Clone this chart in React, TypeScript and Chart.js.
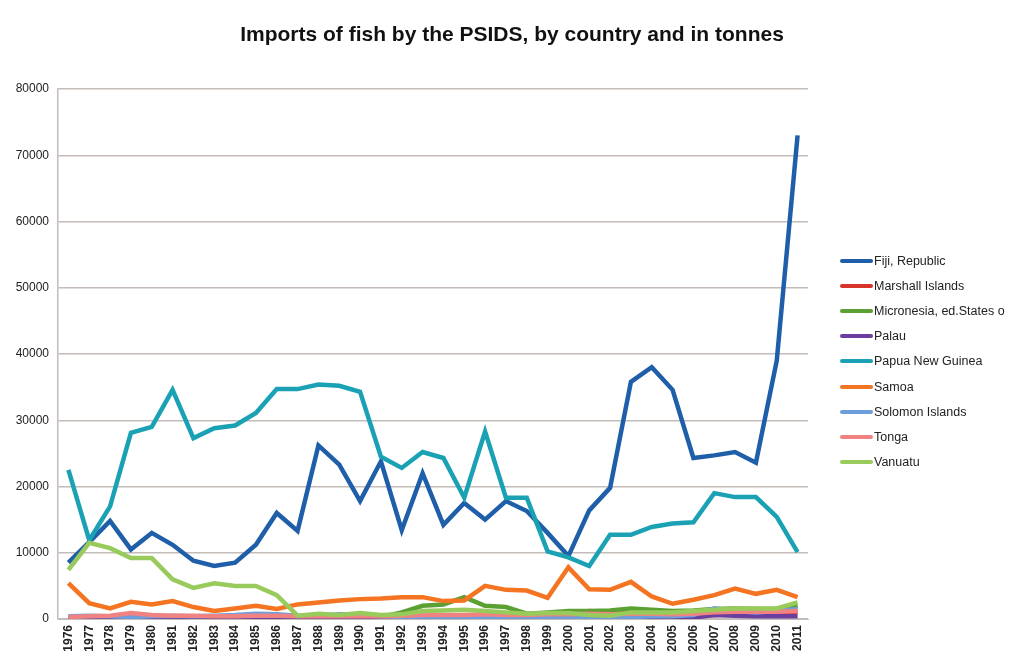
import React, { useEffect, useRef } from "react";
import { Chart, registerables } from "chart.js";

Chart.register(...registerables);

const chartTitle = "Imports of fish by the PSIDS, by country and in tonnes";

const years = [
  "1976","1977","1978","1979","1980","1981","1982","1983","1984","1985",
  "1986","1987","1988","1989","1990","1991","1992","1993","1994","1995",
  "1996","1997","1998","1999","2000","2001","2002","2003","2004","2005",
  "2006","2007","2008","2009","2010","2011",
];

const fiji = [
  8500, 11600, 14800, 10500, 13000, 11200, 8800, 8000, 8500, 11200,
  16000, 13300, 26200, 23300, 17800, 23800, 13400, 22000, 14200, 17500,
  15000, 17800, 16300, 13000, 9500, 16400, 19800, 35800, 38000, 34600,
  24300, 24700, 25200, 23600, 39000, 73000,
];
const marshall = [
  100, 100, 100, 150, 150, 150, 150, 150, 150, 150,
  150, 150, 150, 200, 200, 200, 200, 200, 200, 250,
  300, 300, 300, 500, 700, 1200, 1000, 900, 800, 700,
  500, 600, 800, 900, 1000, 1100,
];
const micronesia = [
  100, 100, 100, 100, 100, 100, 100, 100, 100, 100,
  100, 150, 200, 200, 200, 300, 1000, 2000, 2200, 3300,
  2000, 1800, 800, 1000, 1200, 1200, 1300, 1600, 1400, 1200,
  1300, 1500, 1600, 1500, 1500, 2000,
];
const palau = [
  50, 50, 50, 100, 100, 100, 100, 100, 100, 100,
  100, 100, 100, 100, 100, 100, 100, 100, 100, 100,
  100, 100, 100, 100, 100, 100, 100, 100, 100, 100,
  200, 600, 500, 400, 400, 400,
];
const png = [
  22500, 11900, 17000, 28100, 29000, 34600, 27300, 28800, 29200, 31100,
  34700, 34700, 35400, 35200, 34300, 24500, 22800, 25200, 24300, 18300,
  28300, 18300, 18300, 10200, 9300, 8000, 12700, 12700, 13900, 14400,
  14600, 19000, 18400, 18400, 15400, 10100,
];
const samoa = [
  5400, 2400, 1600, 2600, 2200, 2700, 1800, 1200, 1600, 2000,
  1500, 2200, 2500, 2800, 3000, 3100, 3300, 3300, 2700, 2800,
  5000, 4400, 4300, 3200, 7800, 4500, 4400, 5600, 3400, 2300,
  2900, 3600, 4600, 3800, 4400, 3300,
];
const solomon = [
  400, 500, 400, 300, 400, 500, 400, 500, 600, 800,
  700, 500, 500, 700, 600, 400, 300, 300, 200, 200,
  200, 200, 200, 200, 300, 200, 200, 300, 400, 400,
  600, 1600, 1200, 1000, 1200, 1500,
];
const tonga = [
  300, 400, 500, 900, 600, 500, 500, 400, 400, 500,
  500, 400, 400, 400, 400, 400, 500, 600, 600, 600,
  700, 600, 600, 700, 700, 800, 700, 800, 800, 700,
  800, 1000, 1100, 1100, 1100, 1200,
];
const vanuatu = [
  7400, 11500, 10700, 9200, 9200, 6000, 4700, 5400, 5000, 5000,
  3600, 500, 800, 600, 900, 600, 700, 1200, 1300, 1400,
  1200, 1000, 800, 900, 900, 600, 500, 1000, 1000, 1000,
  1200, 1400, 1600, 1600, 1600, 2500,
];

const seriesNames = [
  "Fiji, Republic",
  "Marshall Islands",
  "Micronesia, ed.States o",
  "Palau",
  "Papua New Guinea",
  "Samoa",
  "Solomon Islands",
  "Tonga",
  "Vanuatu",
];
const seriesColors = [
  "#1f5ea8",
  "#d9342b",
  "#5aa032",
  "#6a3d9e",
  "#1aa2b4",
  "#f47421",
  "#6d9edb",
  "#f08282",
  "#98cb5c",
];
const seriesData = [fiji, marshall, micronesia, palau, png, samoa, solomon, tonga, vanuatu];

const yTicks = [0, 10000, 20000, 30000, 40000, 50000, 60000, 70000, 80000];

const titlePlugin = {
  id: "pageTitle",
  afterDraw(chart: any) {
    const ctx = chart.ctx;
    ctx.save();
    ctx.font = "bold 21px 'Liberation Sans'";
    ctx.fillStyle = "#111";
    ctx.textAlign = "center";
    ctx.textBaseline = "middle";
    ctx.fillText(chartTitle, 512, 35);
    ctx.restore();
  },
};

export default function App() {
  const canvasRef = useRef<HTMLCanvasElement | null>(null);

  useEffect(() => {
    if (!canvasRef.current) return;
    const datasets = seriesNames.map((name, i) => ({
      label: name,
      data: seriesData[i],
      borderColor: seriesColors[i],
      backgroundColor: seriesColors[i],
      borderWidth: 4.5,
      pointRadius: 0,
      tension: 0,
      fill: false,
      order: seriesNames.length - i,
    }));
    const chart = new Chart(canvasRef.current, {
      type: "line",
      data: { labels: years, datasets },
      plugins: [titlePlugin],
      options: {
        animation: false,
        responsive: false,
        maintainAspectRatio: false,
        layout: { padding: { top: 89, left: 0, right: 202, bottom: 0 } },
        plugins: {
          legend: { display: false },
          tooltip: { enabled: false },
          title: { display: false },
        },
        scales: {
          x: {
            offset: true,
            grid: { display: false, drawTicks: false },
            border: { display: true, color: "#c4bcb8", width: 1 },
            ticks: {
              color: "#222",
              font: { family: "Liberation Sans", size: 12, weight: "bold" },
              maxRotation: 90,
              minRotation: 90,
              autoSkip: false,
              padding: 6,
            },
            afterFit: (scale: any) => {
              scale.height = 44;
            },
          },
          y: {
            min: 0,
            max: 80000,
            afterBuildTicks: (scale: any) => {
              scale.ticks = yTicks.map((v) => ({ value: v }));
            },
            grid: { color: "#c4bcb8", lineWidth: 1.5, drawTicks: false },
            border: { display: true, color: "#c4bcb8", width: 1.5 },
            ticks: {
              color: "#222",
              font: { family: "Liberation Sans", size: 12 },
              padding: 9,
              callback: (v: any) => String(v),
            },
            afterFit: (scale: any) => {
              scale.width = 58;
            },
          },
        },
      },
    });
    return () => chart.destroy();
  }, []);

  return (
    <div
      style={{
        position: "fixed",
        left: 0,
        top: 0,
        width: 1010,
        height: 663,
        background: "#fff",
        overflow: "hidden",
      }}
    >
      <canvas ref={canvasRef} width={1010} height={663} style={{ position: "absolute", left: 0, top: 0 }} />
      <div style={{ position: "absolute", left: 840, top: 248, width: 170, overflow: "hidden" }}>
        {seriesNames.map((name, i) => (
          <div
            key={name}
            style={{ display: "flex", alignItems: "center", height: 25.2, whiteSpace: "nowrap" }}
          >
            <span
              style={{
                display: "inline-block",
                width: 33,
                height: 4,
                background: seriesColors[i],
                borderRadius: 2,
                marginRight: 1,
              }}
            />
            <span style={{ fontFamily: "Liberation Sans", fontSize: 12.5, color: "#222" }}>{name}</span>
          </div>
        ))}
      </div>
    </div>
  );
}
